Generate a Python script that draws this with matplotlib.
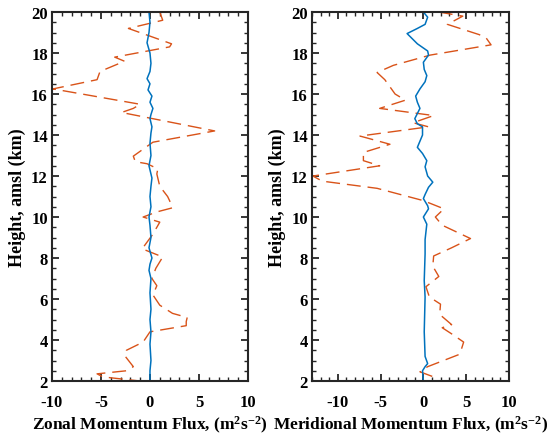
import numpy as np
import matplotlib
matplotlib.use("Agg")
import matplotlib.pyplot as plt
from matplotlib.ticker import MultipleLocator

plt.rcParams['font.family'] = ['Liberation Serif', 'DejaVu Serif']
plt.rcParams['font.weight'] = 'bold'
plt.rcParams['axes.unicode_minus'] = False
plt.rcParams['mathtext.fontset'] = 'custom'
plt.rcParams['mathtext.rm'] = 'Liberation Serif:bold'
plt.rcParams['mathtext.bf'] = 'Liberation Serif:bold'
plt.rcParams['mathtext.it'] = 'Liberation Serif:bold:italic'

# zonal flux, dashed (total) and solid (small) profiles
zon_dash_h = [20.0, 19.6, 19.2, 18.45, 18.3, 17.8, 17.6, 17.1, 16.7, 16.3, 16.25,
              15.5, 15.3, 15.1, 14.2, 13.65, 12.97, 12.7, 12.6, 12.35, 12.1, 11.5,
              11.0, 10.8, 10.45, 10.25, 10.0, 9.75, 9.5, 9.1, 8.45, 8.05, 7.5,
              7.0, 6.65, 6.2, 5.7, 5.3, 5.1, 4.9, 4.7, 4.4, 3.9, 3.5, 3.25, 2.7,
              2.5, 2.35, 2.2, 2.0]
zon_dash_u = [1.0, 1.3, -2.2, 2.2, 2.0, -3.6, -2.6, -5.1, -5.4, -9.4, -9.9,
              -1.0, -1.7, -2.9, 6.6, 0.3, -1.7, -1.5, -0.3, 0.8, 0.7, 1.0,
              1.8, 2.0, 2.3, 0.7, -0.7, 1.0, 0.7, 0.2, -0.8, 1.3, 0.6,
              0.2, 0.7, 0.3, 1.0, 2.3, 3.8, 3.7, 3.7, 0.0, -0.7, -2.4, -2.6, -1.7,
              -2.4, -5.4, -4.8, -1.0]

zon_solid_h = [20.0, 19.5, 19.0, 18.5, 18.0, 17.5, 17.1, 16.75, 16.5, 16.2, 15.9,
               15.6, 15.3, 15.0, 14.8, 14.4, 14.1, 13.6, 13.0, 12.5, 11.9, 11.5,
               11.0, 10.5, 10.0, 9.6, 9.0, 8.5, 8.0, 7.7, 7.4, 7.0, 6.3, 5.5,
               5.0, 4.4, 3.8, 3.0, 2.5, 2.0]
zon_solid_u = [-0.1, 0.0, -0.1, -0.3, 0.0, 0.1, 0.0, -0.3, 0.0, -0.2, 0.2,
               0.0, 0.3, 0.1, 0.0, 0.2, 0.1, 0.0, 0.1, -0.1, 0.2, 0.1,
               0.0, 0.1, -0.1, 0.0, 0.1, -0.1, 0.2, 0.0, -0.1, 0.1, 0.0, 0.1,
               0.0, 0.1, 0.0, 0.1, 0.0, 0.0]

# meridional flux
mer_dash_h = [20.0, 19.8, 19.4, 18.9, 18.75, 18.4, 17.9, 17.4, 17.05, 16.7, 16.0,
              15.7, 15.3, 14.95, 14.6, 14.4, 13.95, 13.55, 13.15, 12.75, 12.5,
              12.0, 11.75, 11.4, 11.1, 10.8, 10.4, 10.0, 9.6, 8.95, 8.5, 8.1,
              7.6, 7.1, 6.6, 6.1, 5.75, 5.25, 4.75, 4.6, 4.3, 3.9, 3.5, 3.3,
              2.7, 2.45, 2.2, 2.0]
mer_dash_v = [1.8, 4.6, 2.8, 6.5, 7.3, 7.9, 0.8, -3.5, -5.4, -4.5, -3.3,
              -2.1, -5.1, 1.2, -1.2, 0.6, -7.4, -3.9, -7.0, -7.0, -5.1,
              -12.9, -11.8, -5.4, -2.7, 0.0, 2.4, 1.4, 2.2, 5.5, 3.3, 1.2,
              1.1, 1.8, 0.3, 0.7, 2.0, 1.9, 3.3, 2.2, 3.3, 4.7, 4.4, 4.2,
              0.5, -0.4, 1.2, 1.0]

mer_solid_h = [20.0, 19.75, 19.4, 19.2, 18.95, 18.45, 18.1, 17.9, 17.55, 17.2,
               16.9, 16.6, 16.25, 15.9, 15.6, 15.3, 15.05, 14.8, 14.55, 14.4,
               14.0, 13.4, 13.1, 12.75, 12.45, 12.0, 11.7, 11.45, 11.1, 10.9,
               10.55, 10.4, 10.0, 9.65, 8.9, 8.2, 6.9, 6.1, 4.4, 3.2, 2.85, 2.7,
               2.5, 2.0]
mer_solid_v = [0.0, 0.5, 0.2, -0.7, -1.9, -0.7, 0.5, 0.6, 0.0, 0.1,
               0.4, 0.2, -0.4, -0.9, -0.7, -0.4, -0.7, -1.0, -0.7, -0.1,
               -0.1, -0.7, -0.1, 0.4, 0.2, 0.5, 1.1, 0.6, 0.2, 0.0,
               0.5, 0.6, 0.0, 0.4, 0.2, 0.2, 0.1, 0.2, 0.1, 0.2, 0.5, 0.2,
               -0.1, 0.0]

orange = '#D95319'
blue = '#0072BD'

fig = plt.figure(figsize=(5.52, 4.39), dpi=100)
ax1 = fig.add_axes([0.0942, 0.1298, 0.355, 0.8405])
ax2 = fig.add_axes([0.5652, 0.1298, 0.357, 0.8405])

panels = [
    (ax1, zon_dash_u, zon_dash_h, zon_solid_u, zon_solid_h, (-10, 10),
     'Zonal Momentum Flux, (m$^{2}$s$^{-2}$)'),
    (ax2, mer_dash_v, mer_dash_h, mer_solid_v, mer_solid_h, (-13, 10),
     'Meridional Momentum Flux, (m$^{2}$s$^{-2}$)'),
]

for ax, dx, dy, sx, sy, xl, lab in panels:
    ax.plot(dx, dy, color=orange, lw=1.0, dashes=(10, 5))
    ax.plot(sx, sy, color=blue, lw=1.1)
    ax.set_xlim(*xl)
    ax.set_ylim(2, 20)
    ax.set_xticks([-10, -5, 0, 5, 10])
    ax.set_yticks(np.arange(2, 21, 2))
    ax.xaxis.set_minor_locator(MultipleLocator(1))
    ax.yaxis.set_minor_locator(MultipleLocator(0.5))
    ax.tick_params(which='both', direction='in', top=True, right=True,
                   color='#262626', labelsize=12)
    ax.tick_params(which='major', length=5, width=1.3)
    ax.tick_params(axis='x', which='major', pad=9)
    ax.tick_params(axis='y', which='major', pad=3)
    ax.tick_params(which='minor', length=3, width=1.0)
    for s in ax.spines.values():
        s.set_linewidth(1.5)
        s.set_color('#262626')
    ax.set_ylabel('Height, amsl (km)', fontsize=13, fontweight='bold', labelpad=4)
    ax.set_xlabel(lab, fontsize=12.5, fontweight='bold', labelpad=3)

fig.savefig('out.png', dpi=100)
